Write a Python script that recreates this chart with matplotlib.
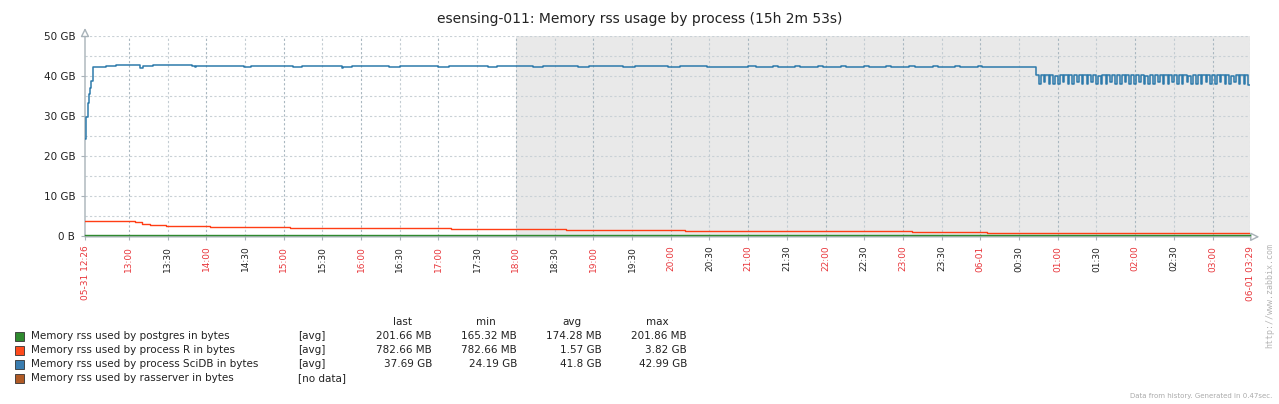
import matplotlib
matplotlib.use('Agg')
import matplotlib.pyplot as plt
import pandas as pd

W, H = 1279, 404
BASE_DAY = '2016-05-31'

# --- data -------------------------------------------------------------
# SciDB process rss (GB), step data until the oscillating phase
scidb_times = ['12:26', '12:27', '12:28', '12:29', '12:30', '12:31', '12:32', '12:42', '12:50',
               '13:09', '13:11', '13:19', '13:49', '13:51', '13:52', '14:29', '14:35', '15:07',
               '15:14', '15:45', '15:46', '15:53', '16:22', '16:30', '17:00', '17:08', '17:38',
               '17:45', '18:13', '18:21', '18:48', '18:57', '19:23', '19:32', '19:58', '20:07',
               '20:28', '21:00', '21:06', '21:19', '21:23', '21:36', '21:40', '21:54', '21:58',
               '22:12', '22:16', '22:30', '22:34', '22:47', '22:51', '23:05', '23:09', '23:23',
               '23:27', '23:40', '23:44', '23:58', '00:01']
scidb_vals = [24.19, 29.8, 33.3, 35.4, 37.0, 38.7, 42.2, 42.4, 42.75,
              41.9, 42.4, 42.75, 42.4, 42.2, 42.4, 42.2, 42.4, 42.2,
              42.4, 42.0, 42.2, 42.4, 42.2, 42.4, 42.2, 42.4, 42.2,
              42.4, 42.2, 42.4, 42.2, 42.4, 42.2, 42.4, 42.2, 42.4,
              42.2, 42.4, 42.2, 42.4, 42.2, 42.4, 42.2, 42.4, 42.2,
              42.4, 42.2, 42.4, 42.2, 42.4, 42.2, 42.4, 42.2, 42.4,
              42.2, 42.4, 42.2, 42.4, 42.2]
# after 00:43 the SciDB rss oscillates: tooth highs / lows (GB)
osc_start, osc_end = '00:43', '03:29'
osc_highs = [40.3, 40.2, 40.3, 40.3, 40.1, 40.3, 40.3, 40.2, 40.3, 40.3,
             40.2, 40.3, 40.3, 40.1, 40.3, 40.3, 40.2, 40.3, 40.3, 40.3,
             40.2, 40.3, 40.3, 40.1, 40.3, 40.3, 40.2, 40.3, 40.3, 40.2,
             40.3, 40.3, 40.1, 40.3, 40.3, 40.2, 40.3, 40.3, 40.2, 40.3,
             40.3, 40.1, 40.3, 40.3, 40.2]
osc_lows = [37.9, 38.6, 37.9, 38.0, 37.9, 38.6, 37.9, 37.9, 38.5, 37.9,
            37.9, 38.6, 37.9, 37.9, 38.0, 38.6, 37.9, 37.9, 38.5, 37.9,
            37.9, 38.6, 37.9, 38.0, 37.9, 38.6, 37.9, 37.9, 38.5, 37.9,
            37.9, 38.6, 37.9, 37.9, 38.0, 38.6, 37.9, 37.9, 38.5, 37.9,
            37.9, 38.6, 37.9, 37.9, 37.69]

# process R rss (GB)
r_times = ['12:26', '13:05', '13:10', '13:16', '13:29', '14:03', '15:05', '17:10',
           '18:39', '20:11', '23:07', '00:05', '03:29']
r_vals = [3.82, 3.45, 3.0, 2.7, 2.45, 2.2, 1.95, 1.7, 1.45, 1.2, 0.95, 0.764, 0.764]

# postgres rss (GB)
pg_times = ['12:26', '03:29']
pg_vals = [0.25, 0.25]

y_ticks = [0, 10, 20, 30, 40, 50]
y_labels = ['0 B', '10 GB', '20 GB', '30 GB', '40 GB', '50 GB']

x_tick_times = ['12:26', '13:00', '13:30', '14:00', '14:30', '15:00', '15:30', '16:00',
                '16:30', '17:00', '17:30', '18:00', '18:30', '19:00', '19:30', '20:00',
                '20:30', '21:00', '21:30', '22:00', '22:30', '23:00', '23:30', '00:00',
                '00:30', '01:00', '01:30', '02:00', '02:30', '03:00', '03:29']
x_tick_labels = ['05-31 12:26', '13:00', '13:30', '14:00', '14:30', '15:00', '15:30', '16:00',
                 '16:30', '17:00', '17:30', '18:00', '18:30', '19:00', '19:30', '20:00',
                 '20:30', '21:00', '21:30', '22:00', '22:30', '23:00', '23:30', '06-01',
                 '00:30', '01:00', '01:30', '02:00', '02:30', '03:00', '06-01 03:29']

legend_names = ['Memory rss used by postgres in bytes',
                'Memory rss used by process R in bytes',
                'Memory rss used by process SciDB in bytes',
                'Memory rss used by rasserver in bytes']
legend_func = ['[avg]', '[avg]', '[avg]', '[no data]']
legend_last = ['201.66 MB', '782.66 MB', '37.69 GB', '']
legend_min = ['165.32 MB', '782.66 MB', '24.19 GB', '']
legend_avg = ['174.28 MB', '1.57 GB', '41.8 GB', '']
legend_max = ['201.86 MB', '3.82 GB', '42.99 GB', '']
legend_colors = ['#2f8a2f', '#ff4a1c', '#3a7db0', '#b05a25']

C_SCIDB = '#2d7aab'
C_R = '#ff3d14'
C_PG = '#2f8a2f'
C_AXIS = '#a8b2b8'


def ts(s):
    t = pd.Timestamp(f'{BASE_DAY} {s}')
    if t.hour < 12:
        t += pd.Timedelta(days=1)
    return t


def px(x, y):
    return x / W, 1 - y / H


# build the SciDB series: plateau part + oscillation teeth
osc_vals = []
for hi, lo in zip(osc_highs, osc_lows):
    osc_vals += [hi, hi, lo]
osc_t = pd.date_range(ts(osc_start), ts(osc_end), periods=len(osc_vals) + 1)
sc_t = [ts(s) for s in scidb_times] + list(osc_t[:-1]) + [osc_t[-1]]
sc_v = scidb_vals + osc_vals + [osc_vals[-1]]

fig = plt.figure(figsize=(W / 100, H / 100), dpi=100)
fig.patch.set_facecolor('white')
ax = fig.add_axes([85 / W, 1 - 236 / H, 1165 / W, 200 / H])
ax.set_facecolor('white')

x0, x1 = ts('12:26'), ts('03:29')
ax.axvspan(ts('18:00'), x1, color='#e9e9e9', zorder=0, lw=0)

ax.plot([ts(s) for s in pg_times], pg_vals, color=C_PG, lw=1.0, drawstyle='steps-post',
        zorder=6, clip_on=False)
ax.plot([ts(s) for s in r_times], r_vals, color=C_R, lw=1.0, drawstyle='steps-post', zorder=5)
ax.plot(sc_t, sc_v, color=C_SCIDB, lw=1.1, drawstyle='steps-post', zorder=5)

ax.set_xlim(x0, x1)
ax.set_ylim(0, 50)

# grid
for v in range(5, 51, 5):
    ax.axhline(v, color='#c9d1d6', lw=0.8, ls=(0, (2, 2)), zorder=1)
for s in x_tick_times[1:]:
    hour_line = s.endswith(':00')
    ax.axvline(ts(s), color='#a9b7c0' if hour_line else '#c3ccd2', lw=0.8,
               ls=(0, (2, 2)), zorder=1)

for sp in ax.spines.values():
    sp.set_visible(False)
ax.annotate('', xy=(0, 1.04), xytext=(0, -0.002), xycoords='axes fraction', zorder=2,
            arrowprops=dict(arrowstyle='-|>,head_length=0.5,head_width=0.25',
                            color=C_AXIS, lw=1, fc='white', shrinkA=0, shrinkB=0))
ax.annotate('', xy=(1.008, -0.004), xytext=(0, -0.004), xycoords='axes fraction', zorder=2,
            arrowprops=dict(arrowstyle='-|>,head_length=0.5,head_width=0.25',
                            color=C_AXIS, lw=1, fc='white', shrinkA=0, shrinkB=0))

ax.set_yticks(y_ticks)
ax.set_yticklabels(y_labels)
ax.tick_params(axis='y', length=3, width=0.8, color=C_AXIS, pad=4,
               labelsize=7.5, labelcolor='#222222')

ax.set_xticks([ts(s) for s in x_tick_times])
ax.set_xticklabels(x_tick_labels, rotation=90, va='top', ha='center')
ax.tick_params(axis='x', length=3, width=0.8, color=C_AXIS, pad=4, labelsize=6.5)
for lbl, s in zip(ax.get_xticklabels(), x_tick_times):
    red = s.endswith(':00') or s in ('12:26', '03:29')
    lbl.set_color('#e8363b' if red else '#222222')

fig.text(*px(640, 19), 'esensing-011: Memory rss usage by process (15h 2m 53s)',
         ha='center', va='center', fontsize=10, color='#222222')

# legend table
for x, hdr in [(402, 'last'), (486, 'min'), (572, 'avg'), (657, 'max')]:
    fig.text(*px(x, 322), hdr, ha='center', va='center', fontsize=7.5, color='#222222')
row_y = [336, 350, 364, 378]
for i, y in enumerate(row_y):
    fig.patches.append(plt.Rectangle(px(15, y + 4.5), 9 / W, 9 / H, transform=fig.transFigure,
                                     facecolor=legend_colors[i], edgecolor='#333333', lw=0.6))
    fig.text(*px(31, y), legend_names[i], ha='left', va='center', fontsize=7.5, color='#222222')
    fig.text(*px(298, y), legend_func[i], ha='left', va='center', fontsize=7.5, color='#222222')
    for xr, col in [(432, legend_last), (517, legend_min), (602, legend_avg), (687, legend_max)]:
        if col[i]:
            fig.text(*px(xr, y), col[i], ha='right', va='center', fontsize=7.5, color='#222222')

fig.text(*px(1272, 396), 'Data from history. Generated in 0.47sec.', ha='right', va='center',
         fontsize=5, color='#aaaaaa')
fig.text(*px(1270, 296), 'http://www.zabbix.com', ha='center', va='center', rotation=90,
         fontsize=6, color='#b5b5b5', family='DejaVu Sans Mono')

fig.savefig('out.png', dpi=100, facecolor='white')
